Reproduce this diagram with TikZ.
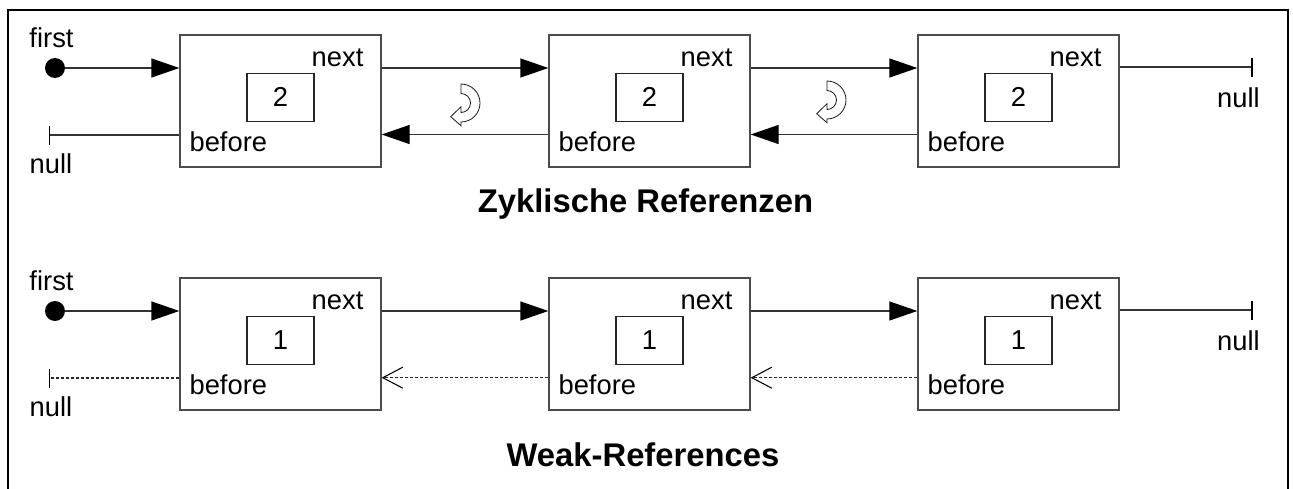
\documentclass[tikz,border=0pt]{standalone}
\usepackage{fontspec}
\setmainfont{Liberation Sans}
\usetikzlibrary{arrows.meta,calc}
\begin{document}
\begin{tikzpicture}[x=0.75pt,y=-0.75pt,
 lbl/.style={inner sep=0pt, font=\fontsize{20.5}{24}\selectfont},
 ttl/.style={inner sep=0pt, font=\fontsize{24.6}{28}\selectfont\bfseries},
 objbox/.style={draw=black!70, line width=1pt, minimum width=150.75pt, minimum height=99pt, inner sep=0pt},
 cntbox/.style={draw=black!85, line width=0.9pt, minimum width=50.25pt, minimum height=36pt, inner sep=0pt, font=\fontsize{20.5}{24}\selectfont},
 conn/.style={draw=black!80, line width=1pt},
 strong/.style={conn, -{Triangle[length=21pt,width=14.25pt,color=black]}},
 weak/.style={draw=black!85, line width=0.8pt, dash pattern=on 2.25pt off 1.5pt, -{Straight Barb[length=15pt,width=15.75pt,line width=0.8pt,color=black]}},
 nullend/.style={conn, -{Bar[width=14.25pt,line width=1.4pt,color=black]}},
 nullweak/.style={draw=black!85, line width=0.8pt, dash pattern=on 2.25pt off 1.5pt, -{Bar[width=14.25pt,line width=1.4pt,color=black]}},
 dotnode/.style={circle, fill=black, inner sep=0pt, minimum size=15pt},
 cyc/.pic={\draw[black!90, line width=0.6pt, fill=white] (0,-19) arc[start angle=-90, end angle=90, radius=19] -- (0,22.7) -- (-10.3,13.7) -- (0,3.7) -- (0,9.5) arc[start angle=90, end angle=-90, radius=9.5] -- cycle;},
 frame/.style={draw=black, line width=1pt}
]
\useasboundingbox (0,0) rectangle (1293,489);
\draw[frame] (8,489) -- (8,10) -- (1288,10) -- (1288,489);

% ---------- row 1: Zyklische Referenzen ----------
\node[objbox] (a1) at (280.5,101) {};
\node[objbox] (a2) at (649.5,101) {};
\node[objbox] (a3) at (1018.5,101) {};
\foreach \i in {1,2,3} {
  \node[cntbox] (ac\i) at ($(a\i.north)+(0,63)$) {2};
  \node[lbl, anchor=base east] (an\i) at ($(a\i.north east)+(-18,32)$) {next};
  \node[lbl, anchor=base west] (ab\i) at ($(a\i.north west)+(10,117)$) {before};
}
\coordinate (aN) at (0,68);
\coordinate (aB) at (0,134.5);
\node[lbl, anchor=base] (afirst) at (51.5,47) {first};
\node[dotnode] (adot) at (55,68) {};
\draw[strong] (adot) -- (adot -| a1.west);
\draw[strong] (a1.east |- aN) -- (a2.west |- aN);
\draw[strong] (a2.east |- aN) -- (a3.west |- aN);
\coordinate (aRnull) at (1253,67);
\draw[nullend] (a3.east |- aRnull) -- (aRnull);
\node[lbl, anchor=base] (anullR) at (1238.5,107) {null};
\draw[strong] (a2.west |- aB) -- (a1.east |- aB);
\draw[strong] (a3.west |- aB) -- (a2.east |- aB);
\coordinate (aLnull) at (48.5,135);
\draw[nullend] (a1.west |- aLnull) -- (aLnull);
\node[lbl, anchor=base] (anullL) at (51,173) {null};
\pic (cy1) at (461,103) {cyc};
\pic (cy2) at (827,100) {cyc};
\node[ttl, anchor=base] (t1) at (645.5,212) {Zyklische Referenzen};

% ---------- row 2: Weak-References ----------
\node[objbox] (b1) at (280.5,344) {};
\node[objbox] (b2) at (649.5,344) {};
\node[objbox] (b3) at (1018.5,344) {};
\foreach \i in {1,2,3} {
  \node[cntbox] (bc\i) at ($(b\i.north)+(0,63)$) {1};
  \node[lbl, anchor=base east] (bn\i) at ($(b\i.north east)+(-18,32)$) {next};
  \node[lbl, anchor=base west] (bb\i) at ($(b\i.north west)+(10,117)$) {before};
}
\coordinate (bN) at (0,311);
\coordinate (bB) at (0,377.7);
\node[lbl, anchor=base] (bfirst) at (51.5,290) {first};
\node[dotnode] (bdot) at (55,311) {};
\draw[strong] (bdot) -- (bdot -| b1.west);
\draw[strong] (b1.east |- bN) -- (b2.west |- bN);
\draw[strong] (b2.east |- bN) -- (b3.west |- bN);
\coordinate (bRnull) at (1253,310);
\draw[nullend] (b3.east |- bRnull) -- (bRnull);
\node[lbl, anchor=base] (bnullR) at (1238.5,350) {null};
\draw[weak] (b2.west |- bB) -- (b1.east |- bB);
\draw[weak] (b3.west |- bB) -- (b2.east |- bB);
\coordinate (bLnull) at (48.5,378);
\draw[nullweak] (b1.west |- bLnull) -- (bLnull);
\node[lbl, anchor=base] (bnullL) at (51,416) {null};
\node[ttl, anchor=base] (t2) at (643,466.7) {Weak-References};
\end{tikzpicture}
\end{document}
